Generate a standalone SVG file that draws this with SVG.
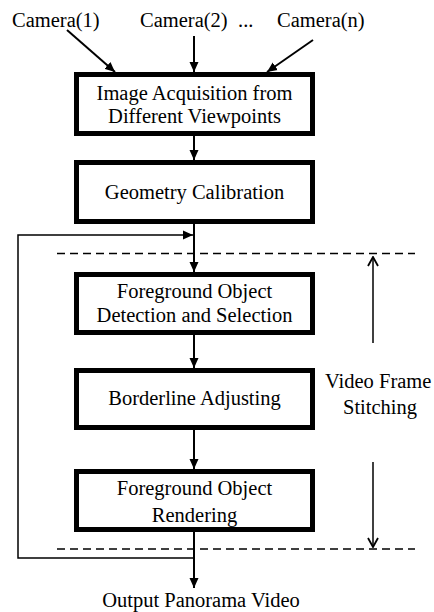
<svg xmlns="http://www.w3.org/2000/svg" width="434" height="612" viewBox="0 0 434 612">
<defs>
<style>
text{font-family:"Liberation Serif","Times New Roman",serif;font-size:20.5px;fill:#000}
.c{text-anchor:middle}
.box{fill:#fff;stroke:#000;stroke-width:5}
.ar{fill:none;stroke:#000;stroke-width:2}
.fb{fill:none;stroke:#000;stroke-width:1.5}
.dash{fill:none;stroke:#000;stroke-width:1.5;stroke-dasharray:8 5}
</style>
<marker id="tri" markerUnits="userSpaceOnUse" markerWidth="10" markerHeight="10" viewBox="0 0 10 10" refX="10" refY="5" orient="auto">
<path d="M0,0.5 L10,5 L0,9.5 Z" fill="#000"/>
</marker>
<marker id="open" markerUnits="userSpaceOnUse" markerWidth="12" markerHeight="12" viewBox="0 0 12 12" refX="11" refY="6" orient="auto">
<path d="M2,1 L11,6 L2,11" fill="none" stroke="#000" stroke-width="1.8"/>
</marker>
</defs>
<rect width="434" height="612" fill="#fff"/>
<g id="connectors">
<line class="ar" x1="67" y1="30" x2="115" y2="72" marker-end="url(#tri)"/>
<line class="ar" x1="194" y1="36" x2="194" y2="72" marker-end="url(#tri)"/>
<line class="ar" x1="313" y1="40" x2="267" y2="72" marker-end="url(#tri)"/>
<line class="ar" x1="194" y1="136" x2="194" y2="160" marker-end="url(#tri)"/>
<line class="ar" x1="194" y1="224" x2="194" y2="272" marker-end="url(#tri)"/>
<line class="ar" x1="194" y1="335" x2="194" y2="368" marker-end="url(#tri)"/>
<line class="ar" x1="194" y1="430" x2="194" y2="469" marker-end="url(#tri)"/>
<line class="ar" x1="194" y1="532" x2="194" y2="588" marker-end="url(#tri)"/>
<path class="fb" d="M194,558 H18 V235 H193" marker-end="url(#tri)"/>
<line class="dash" x1="57" y1="253.5" x2="415" y2="253.5"/>
<line class="dash" x1="57" y1="549" x2="415" y2="549"/>
<line class="fb" x1="373" y1="343" x2="373" y2="257" marker-end="url(#open)"/>
<line class="fb" x1="373" y1="462" x2="373" y2="547" marker-end="url(#open)"/>
</g>
<g id="cameras">
<text x="12" y="27">Camera(1)</text>
<text x="140" y="27">Camera(2)</text>
<text x="238" y="27">...</text>
<text x="277" y="27">Camera(n)</text>
</g>
<g id="n1">
<rect class="box" x="76.5" y="74.5" width="236" height="59"/>
<text class="c" x="194.5" y="100">Image Acquisition from</text>
<text class="c" x="194.5" y="123">Different Viewpoints</text>
</g>
<g id="n2">
<rect class="box" x="76.5" y="162.5" width="236" height="59"/>
<text class="c" x="194.5" y="199">Geometry Calibration</text>
</g>
<g id="n3">
<rect class="box" x="76.5" y="274.5" width="236" height="58"/>
<text class="c" x="194.5" y="298">Foreground Object</text>
<text class="c" x="194.5" y="322">Detection and Selection</text>
</g>
<g id="n4">
<rect class="box" x="76.5" y="370.5" width="236" height="57"/>
<text class="c" x="194.5" y="405">Borderline Adjusting</text>
</g>
<g id="n5">
<rect class="box" x="76.5" y="471.5" width="236" height="58"/>
<text class="c" x="194.5" y="495">Foreground Object</text>
<text class="c" x="194.5" y="522">Rendering</text>
</g>
<g id="labels">
<text x="325" y="388">Video Frame</text>
<text x="343" y="414">Stitching</text>
<text class="c" x="201" y="607">Output Panorama Video</text>
</g>
</svg>
